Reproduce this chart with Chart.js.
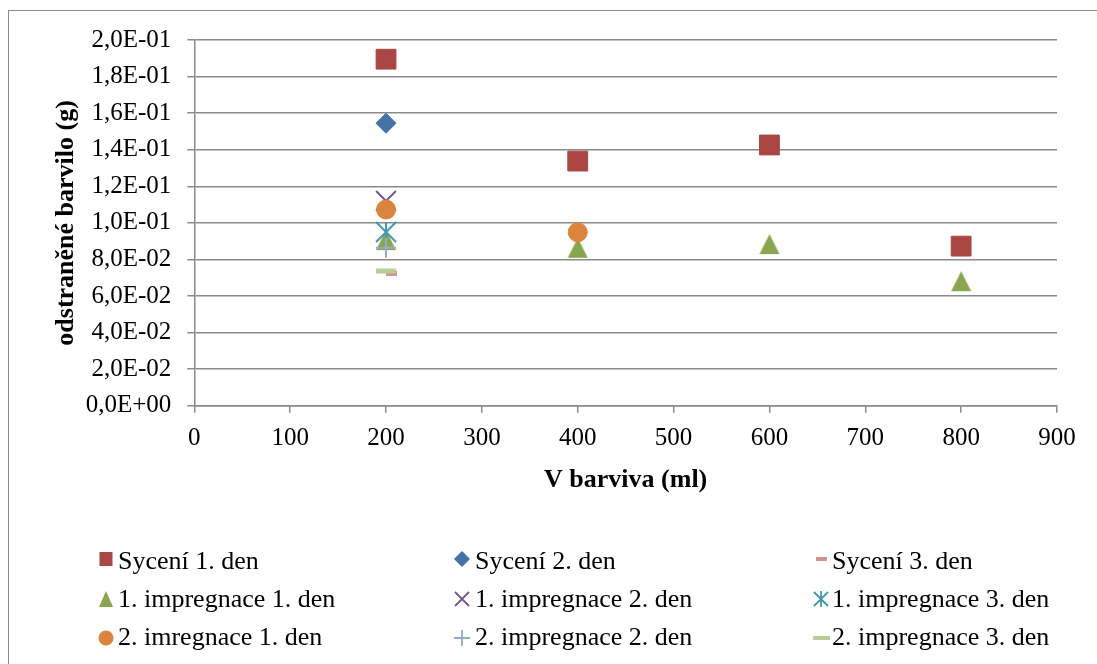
<!DOCTYPE html>
<html>
<head>
<meta charset="utf-8">
<script src="https://cdn.jsdelivr.net/npm/chart.js@4/dist/chart.umd.min.js"></script>
<style>
  html, body { margin: 0; padding: 0; background: #fff; }
  #wrap { position: relative; width: 1097px; height: 664px; overflow: hidden; font-family: 'Liberation Serif', 'Times New Roman', serif; }
  #frame { position: absolute; left: 8px; top: 10px; width: 1100px; height: 700px; border: 1.5px solid #8a8a8a; box-sizing: border-box; }
  #c { position: absolute; left: 0; top: 0; }
  .lg { position: absolute; font-size: 26px; line-height: 30px; color: #000; white-space: nowrap; }
  .ic { position: absolute; }
</style>
</head>
<body>
<div id="wrap">
  <div id="frame"></div>
  <canvas id="c" width="1097" height="664"></canvas>
  <div id="legend"></div>
</div>
<script>
// ---- data ----
const seriesNames = [
  'Sycení 1. den', 'Sycení 2. den', 'Sycení 3. den',
  '1. impregnace 1. den', '1. impregnace 2. den', '1. impregnace 3. den',
  '2. imregnace 1. den', '2. impregnace 2. den', '2. impregnace 3. den'
];
const syceni1X = [200, 400, 600, 800];
const syceni1Y = [0.1895, 0.1338, 0.1426, 0.0873];
const syceni2X = [200];
const syceni2Y = [0.1545];
const syceni3X = [200];
const syceni3Y = [0.0723];
const imp1den1X = [200, 400, 600, 800];
const imp1den1Y = [0.0906, 0.0864, 0.0884, 0.0681];
const imp1den2X = [200];
const imp1den2Y = [0.1120];
const imp1den3X = [200];
const imp1den3Y = [0.0950];
const imp2den1X = [200, 400];
const imp2den1Y = [0.1073, 0.0949];
const imp2den2X = [200];
const imp2den2Y = [0.0864];
const imp2den3X = [200];
const imp2den3Y = [0.0737];
const yTickLabels = ['0,0E+00','2,0E-02','4,0E-02','6,0E-02','8,0E-02','1,0E-01','1,2E-01','1,4E-01','1,6E-01','1,8E-01','2,0E-01'];
const xTitle = 'V barviva (ml)';
const yTitle = 'odstraněné barvilo (g)';

const colors = ['#AA4643','#4572A7','#D19392','#89A54E','#71588F','#4198AF','#DB843D','#93A9CF','#B9CD96'];
const FONT = "'Liberation Serif', 'Times New Roman', serif";

// custom marker images
function makeCanvas(w, h, fn) {
  const c = document.createElement('canvas');
  c.width = w; c.height = h;
  fn(c.getContext('2d'), w, h);
  return c;
}
function drawTri(ctx, w, h, col, s) {
  ctx.fillStyle = col;
  ctx.beginPath();
  ctx.moveTo(w/2, h/2 - s/2);
  ctx.lineTo(w/2 + s/2, h/2 + s/2);
  ctx.lineTo(w/2 - s/2, h/2 + s/2);
  ctx.closePath();
  ctx.fill();
}
function drawAst(ctx, w, h, col, s, lw) {
  ctx.strokeStyle = col; ctx.lineWidth = lw;
  ctx.beginPath();
  ctx.moveTo(w/2 - s/2, h/2 - s/2); ctx.lineTo(w/2 + s/2, h/2 + s/2);
  ctx.moveTo(w/2 + s/2, h/2 - s/2); ctx.lineTo(w/2 - s/2, h/2 + s/2);
  ctx.moveTo(w/2, h/2 - s/2); ctx.lineTo(w/2, h/2 + s/2);
  ctx.stroke();
}
const triImg = makeCanvas(24, 24, (ctx, w, h) => drawTri(ctx, w, h, colors[3], 20));
const astImg = makeCanvas(24, 24, (ctx, w, h) => drawAst(ctx, w, h, colors[5], 20, 2));

function pts(xs, ys) { return xs.map((x, i) => ({ x: x, y: ys[i] })); }

const seriesData = [
  pts(syceni1X, syceni1Y), pts(syceni2X, syceni2Y), pts(syceni3X, syceni3Y),
  pts(imp1den1X, imp1den1Y), pts(imp1den2X, imp1den2Y), pts(imp1den3X, imp1den3Y),
  pts(imp2den1X, imp2den1Y), pts(imp2den2X, imp2den2Y), pts(imp2den3X, imp2den3Y)
];
const styles = [
  { pointStyle: 'rect', pointRadius: 14, pointBorderWidth: 1 },
  { pointStyle: 'rectRot', pointRadius: 10, pointBorderWidth: 1 },
  { pointStyle: 'dash', pointRadius: 11, pointBorderWidth: 5 },
  { pointStyle: triImg, pointRadius: 12, pointBorderWidth: 0 },
  { pointStyle: 'crossRot', pointRadius: 14, pointBorderWidth: 2 },
  { pointStyle: astImg, pointRadius: 12, pointBorderWidth: 0 },
  { pointStyle: 'circle', pointRadius: 9.5, pointBorderWidth: 1 },
  { pointStyle: 'cross', pointRadius: 10, pointBorderWidth: 2 },
  { pointStyle: 'line', pointRadius: 10, pointBorderWidth: 5 }
];

const datasets = seriesNames.map((name, i) => Object.assign({
  label: name,
  data: seriesData[i],
  backgroundColor: colors[i],
  borderColor: colors[i],
  pointBackgroundColor: colors[i],
  pointBorderColor: colors[i],
  showLine: false,
  order: seriesNames.length - i
}, styles[i]));

const gridColor = '#8a8a8a';

new Chart(document.getElementById('c'), {
  type: 'scatter',
  data: { datasets: datasets },
  options: {
    responsive: false,
    animation: false,
    devicePixelRatio: 1,
    layout: { padding: { left: 51, right: 40, top: 40, bottom: 168 } },
    plugins: { legend: { display: false }, tooltip: { enabled: false } },
    scales: {
      x: {
        type: 'linear', min: 0, max: 900,
        ticks: { stepSize: 100, color: '#000', font: { family: FONT, size: 25 }, padding: 11 },
        grid: { drawOnChartArea: false, drawTicks: true, tickLength: 7, color: gridColor, lineWidth: 1.5 },
        border: { display: true, color: gridColor, width: 1.5 },
        title: { display: true, text: xTitle, color: '#000', font: { family: FONT, size: 26, weight: 'bold' }, padding: { top: 0, bottom: 0 } }
      },
      y: {
        type: 'linear', min: 0, max: 0.2,
        ticks: { stepSize: 0.02, color: '#000', font: { family: FONT, size: 25 }, padding: 16,
                 callback: (v, i) => yTickLabels[i] },
        grid: { drawTicks: true, tickLength: 7, color: gridColor, lineWidth: 1.5 },
        border: { display: true, color: gridColor, width: 1.5 },
        title: { display: true, text: yTitle, color: '#000', font: { family: FONT, size: 26, weight: 'bold' }, padding: { top: 0, bottom: -12.5 } }
      }
    }
  }
});

// ---- HTML legend, 3 columns ----
const legendCols = [118, 475, 832];
const legendRowTop = [546, 584, 622];
const iconCx = [106, 462, 821];
const iconCy = [559, 599, 638];
function legendIcon(i, ctx, w, h) {
  const col = colors[i], cx = w/2, cy = h/2;
  ctx.fillStyle = col; ctx.strokeStyle = col;
  ctx.beginPath();
  switch (i) {
    case 0: ctx.fillRect(cx - 6.5, cy - 7, 13, 14); break;
    case 1: ctx.moveTo(cx, cy - 8); ctx.lineTo(cx + 8, cy); ctx.lineTo(cx, cy + 8); ctx.lineTo(cx - 8, cy); ctx.closePath(); ctx.fill(); break;
    case 2: ctx.fillRect(cx - 5, cy - 2, 11, 4); break;
    case 3: ctx.moveTo(cx, cy - 8); ctx.lineTo(cx + 7, cy + 8); ctx.lineTo(cx - 7, cy + 8); ctx.closePath(); ctx.fill(); break;
    case 4: ctx.lineWidth = 1.8; ctx.moveTo(cx - 7, cy - 7); ctx.lineTo(cx + 7, cy + 7); ctx.moveTo(cx + 7, cy - 7); ctx.lineTo(cx - 7, cy + 7); ctx.stroke(); break;
    case 5: ctx.lineWidth = 1.8; ctx.moveTo(cx - 7, cy - 7); ctx.lineTo(cx + 7, cy + 7); ctx.moveTo(cx + 7, cy - 7); ctx.lineTo(cx - 7, cy + 7); ctx.moveTo(cx, cy - 8); ctx.lineTo(cx, cy + 8); ctx.stroke(); break;
    case 6: ctx.arc(cx, cy, 7.5, 0, Math.PI * 2); ctx.fill(); break;
    case 7: ctx.lineWidth = 1.8; ctx.moveTo(cx - 8, cy); ctx.lineTo(cx + 8, cy); ctx.moveTo(cx, cy - 8); ctx.lineTo(cx, cy + 8); ctx.stroke(); break;
    case 8: ctx.fillRect(cx - 8, cy - 2, 17, 4); break;
  }
}
const legendEl = document.getElementById('legend');
seriesNames.forEach((name, i) => {
  const r = Math.floor(i / 3), c = i % 3;
  const t = document.createElement('div');
  t.className = 'lg';
  t.style.left = legendCols[c] + 'px';
  t.style.top = legendRowTop[r] + 'px';
  t.textContent = name;
  legendEl.appendChild(t);
  const ic = makeCanvas(22, 22, (ctx, w, h) => legendIcon(i, ctx, w, h));
  ic.className = 'ic';
  ic.style.left = (iconCx[c] - 11) + 'px';
  ic.style.top = (iconCy[r] - 11) + 'px';
  legendEl.appendChild(ic);
});
</script>
</body>
</html>
